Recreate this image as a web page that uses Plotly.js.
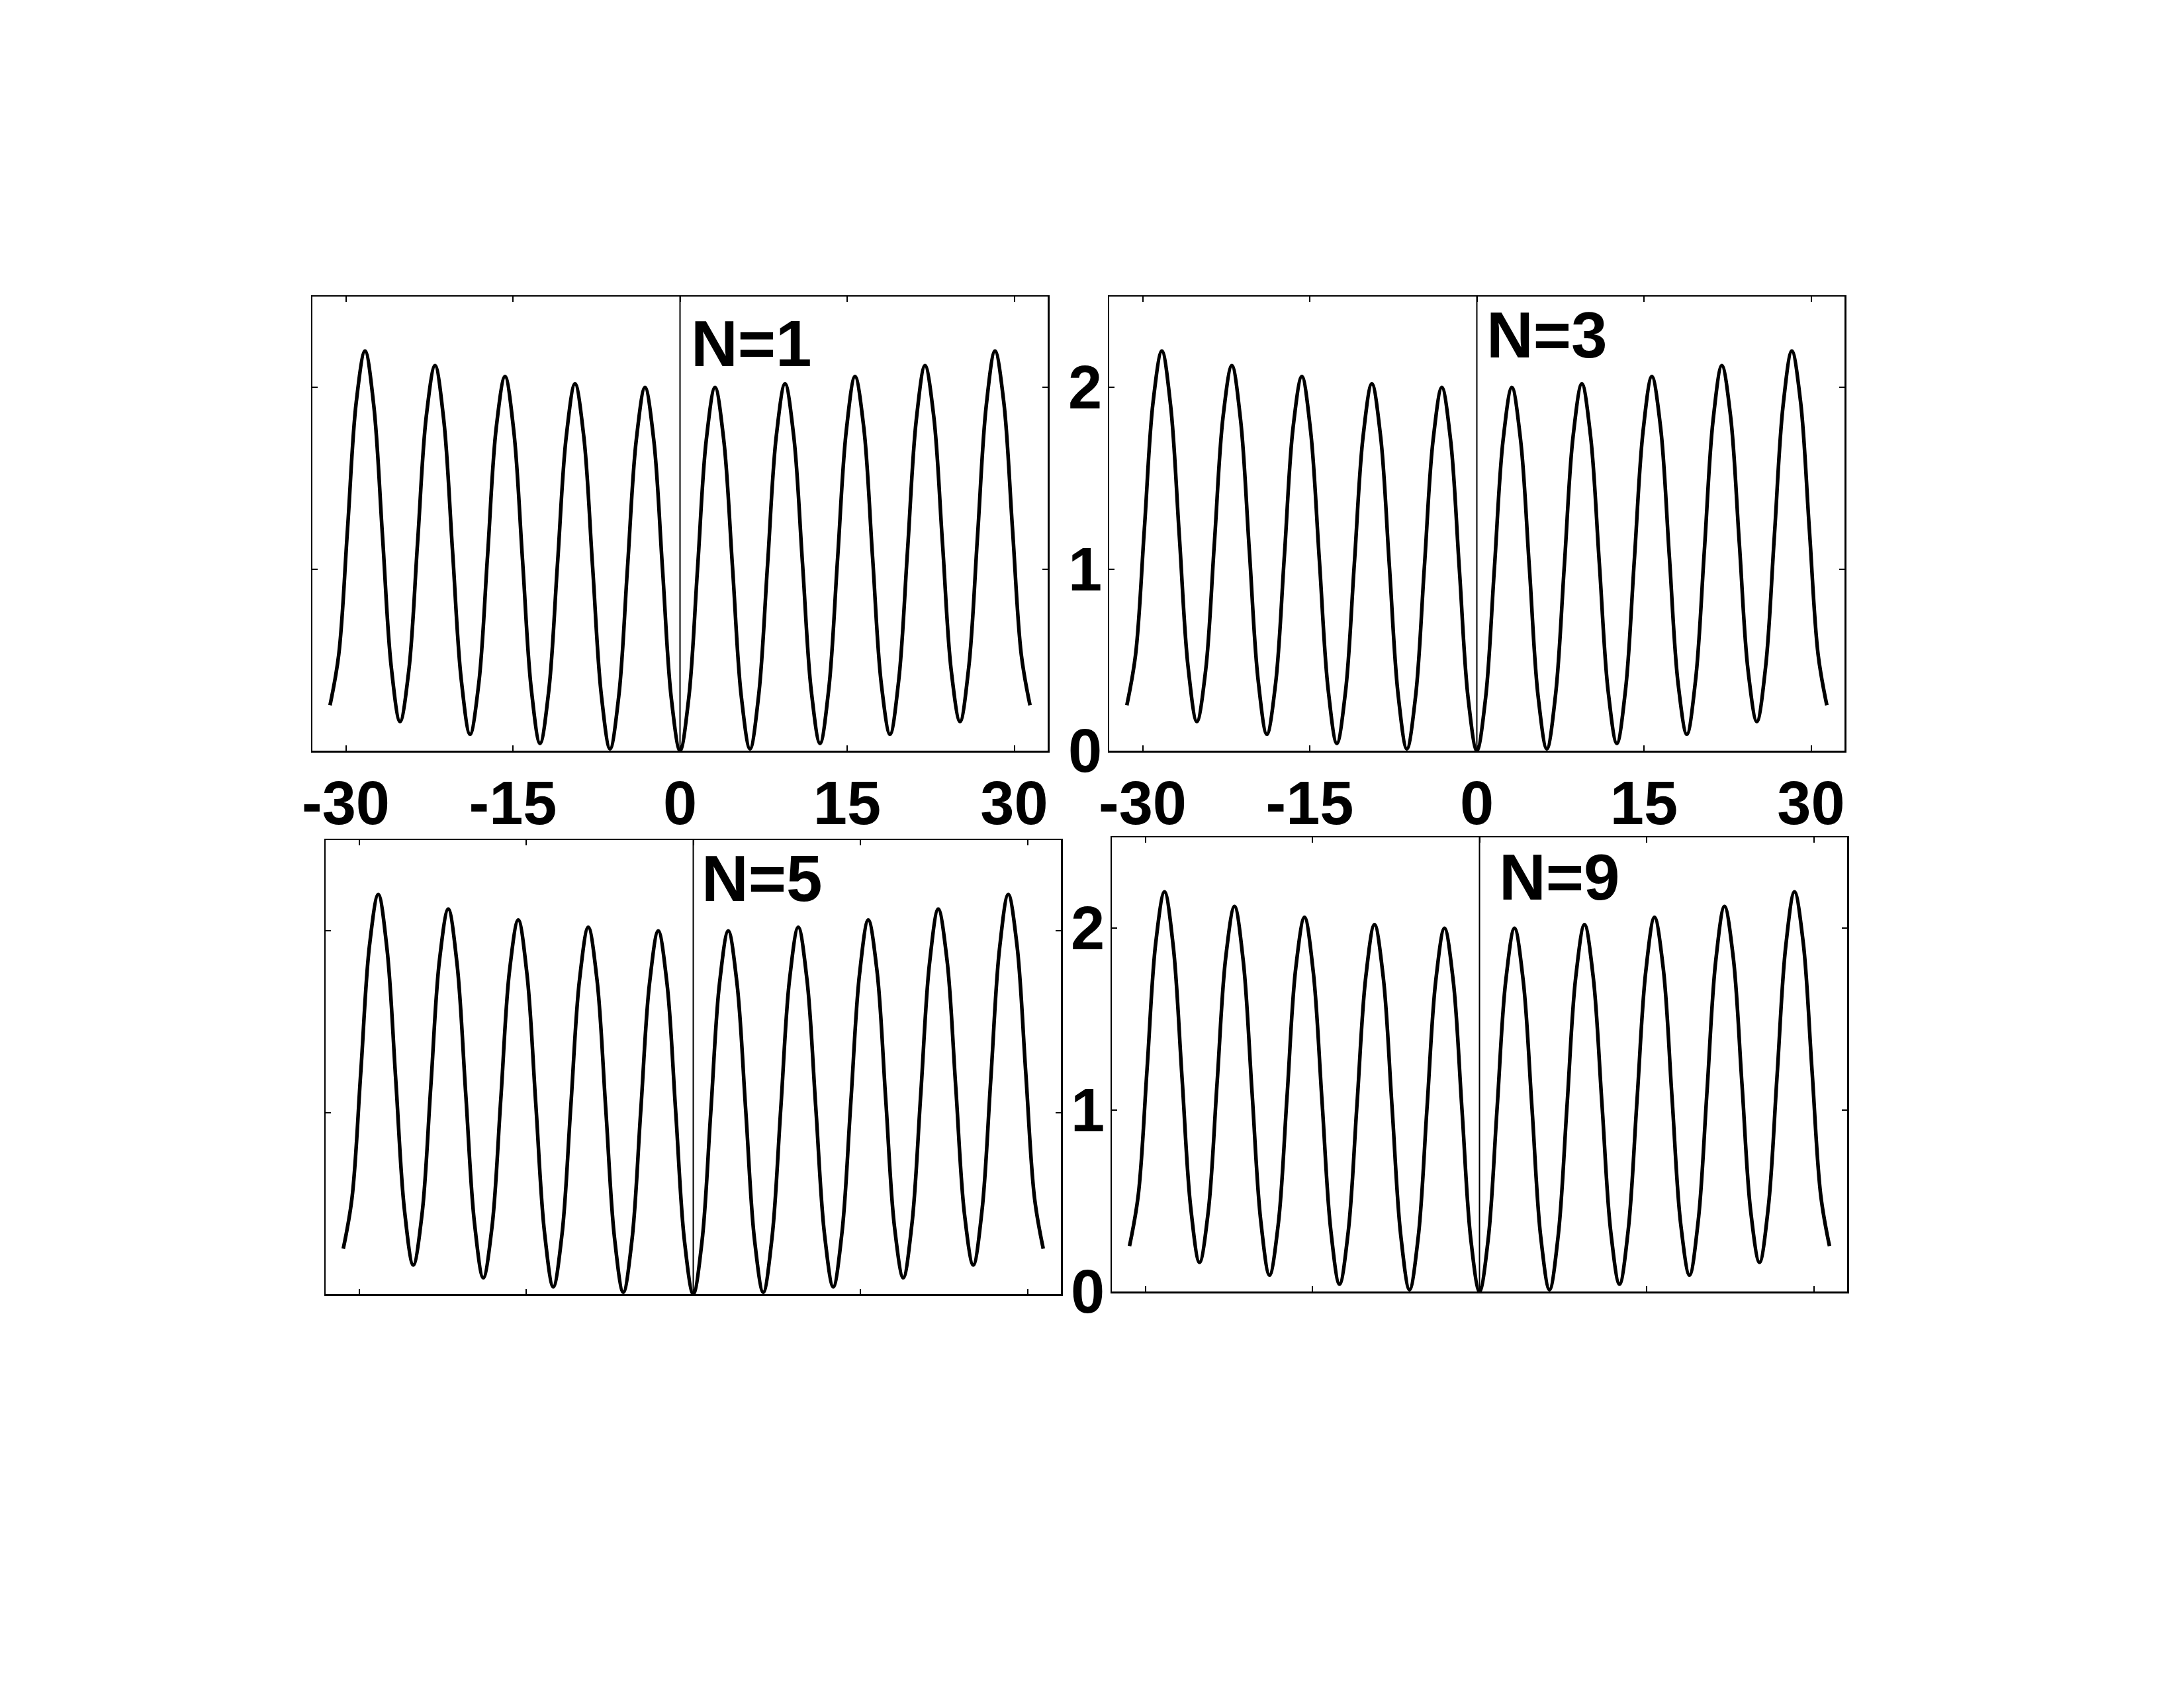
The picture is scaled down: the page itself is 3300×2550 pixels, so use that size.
<!DOCTYPE html>
<html>
<head>
<meta charset="utf-8">
<script src="https://cdn.plot.ly/plotly-3.0.1.min.js"></script>
<style>html,body{margin:0;padding:0;background:#fff;}#chart{width:3300px;height:2550px;}</style>
</head>
<body>
<div id="chart"></div>
<script>
// ---- data ----
const panelLabels = ["N=1", "N=3", "N=5", "N=9"];
const xTickVals = [-30, -15, 0, 15, 30];
const xTickText = ["-30", "-15", "0", "15", "30"];
const yTickVals = [0, 1, 2];
const yTickText = ["0", "1", "2"];

const xValues = [
  -31.416, -30.631, -29.845, -29.060, -28.274, -27.489, -26.704, -25.918, -25.133, -24.347,
  -23.562, -22.777, -21.991, -21.206, -20.420, -19.635, -18.850, -18.064, -17.279, -16.493,
  -15.708, -14.923, -14.137, -13.352, -12.566, -11.781, -10.996, -10.210, -9.425, -8.639,
  -7.854, -7.069, -6.283, -5.498, -4.712, -3.927, -3.142, -2.356, -1.571, -0.785,
  0,
  0.785, 1.571, 2.356, 3.142, 3.927, 4.712, 5.498, 6.283, 7.069, 7.854,
  8.639, 9.425, 10.210, 10.996, 11.781, 12.566, 13.352, 14.137, 14.923, 15.708,
  16.493, 17.279, 18.064, 18.850, 19.635, 20.420, 21.206, 21.991, 22.777, 23.562,
  24.347, 25.133, 25.918, 26.704, 27.489, 28.274, 29.060, 29.845, 30.631, 31.416
];

const yN1 = [
  0.25, 0.53, 1.22, 1.92, 2.20, 1.90, 1.18, 0.46, 0.16, 0.44,
  1.14, 1.84, 2.12, 1.82, 1.10, 0.39, 0.09, 0.37, 1.07, 1.78,
  2.06, 1.76, 1.05, 0.34, 0.04, 0.33, 1.03, 1.73, 2.02, 1.73,
  1.02, 0.31, 0.01, 0.30, 1.01, 1.71, 2.00, 1.71, 1.00, 0.29,
  0.00,
  0.29, 1.00, 1.71, 2.00, 1.71, 1.01, 0.30, 0.01, 0.31, 1.02,
  1.73, 2.02, 1.73, 1.03, 0.33, 0.04, 0.34, 1.05, 1.76, 2.06,
  1.78, 1.07, 0.37, 0.09, 0.39, 1.10, 1.82, 2.12, 1.84, 1.14,
  0.44, 0.16, 0.46, 1.18, 1.90, 2.20, 1.92, 1.22, 0.53, 0.25
];
const yN3 = yN1.slice();
const yN5 = yN1.slice();
const yN9 = yN1.slice();
const seriesY = [yN1, yN3, yN5, yN9];

// ---- layout ----
const W = 3300, H = 2550;
// panel frames in pixels [left, right, top, bottom]
const frames = [
  [472, 1583, 448, 1134],
  [1676, 2787, 448, 1134],
  [492, 1603, 1269, 1955],
  [1680, 2791, 1265, 1951]
];
const showX = [true, true, false, false];
const showY = [false, true, false, true];
const labelX = [14, 12, 10, 27];
const labelY = [2.24, 2.29, 2.29, 2.28];

const tickFont = {family: "Liberation Sans, Arial, Helvetica, sans-serif", size: 92, weight: "bold", color: "#000"};
const labelFont = {family: "Liberation Sans, Arial, Helvetica, sans-serif", size: 98, weight: "bold", color: "#000"};

const traces = [];
const layout = {
  width: W, height: H,
  margin: {l: 0, r: 0, t: 0, b: 0, pad: 0},
  paper_bgcolor: "#fff", plot_bgcolor: "#fff",
  showlegend: false,
  shapes: [], annotations: []
};

for (let i = 0; i < 4; i++) {
  const sfx = i === 0 ? "" : String(i + 1);
  const f = frames[i];
  traces.push({
    type: "scatter", mode: "lines",
    x: xValues, y: seriesY[i],
    xaxis: "x" + sfx, yaxis: "y" + sfx,
    line: {color: "#000", width: 5.5, shape: "spline", smoothing: 1},
    hoverinfo: "skip"
  });
  const common = {
    showline: true, mirror: "ticks", linecolor: "#000", linewidth: 2.5,
    ticks: "inside", ticklen: 8, tickwidth: 2, tickcolor: "#000",
    showgrid: false, zeroline: false, fixedrange: true,
    tickfont: tickFont
  };
  layout["xaxis" + sfx] = Object.assign({}, common, {
    domain: [f[0] / W, f[1] / W],
    anchor: "y" + sfx,
    range: [-33, 33],
    tickmode: "array", tickvals: xTickVals, ticktext: xTickText,
    showticklabels: showX[i],
    ticklabelstandoff: -2
  });
  layout["yaxis" + sfx] = Object.assign({}, common, {
    domain: [1 - f[3] / H, 1 - f[2] / H],
    anchor: "x" + sfx,
    range: [0, 2.5],
    tickmode: "array", tickvals: yTickVals, ticktext: yTickText,
    showticklabels: showY[i],
    ticklabelstandoff: -10
  });
  layout.shapes.push({
    type: "line", xref: "x" + sfx, yref: "y" + sfx,
    x0: 0, x1: 0, y0: 0, y1: 2.5,
    line: {color: "#000", width: 2}
  });
  layout.annotations.push({
    xref: "x" + sfx, yref: "y" + sfx,
    x: 0, y: labelY[i], xanchor: "left", yanchor: "middle",
    xshift: labelX[i],
    text: panelLabels[i], showarrow: false, font: labelFont
  });
}

Plotly.newPlot("chart", traces, layout, {staticPlot: true, displayModeBar: false});
</script>
</body>
</html>
